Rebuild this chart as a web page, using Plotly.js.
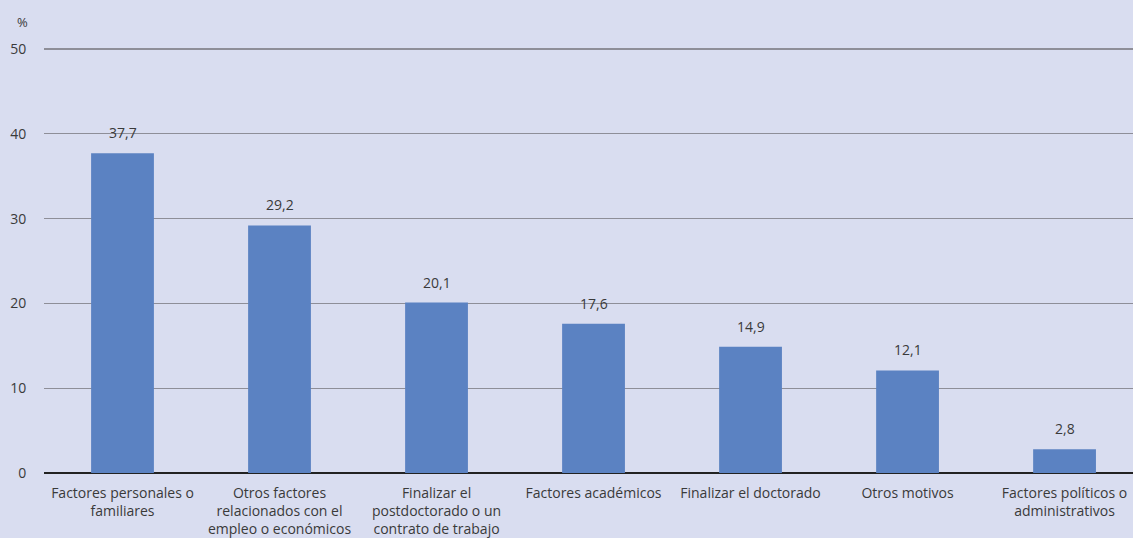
<!DOCTYPE html>
<html><head><meta charset="utf-8">
<script src="https://cdn.plot.ly/plotly-3.0.1.min.js"></script>
<style>html,body{margin:0;padding:0;background:#d9ddf0;}</style>
</head><body><div id="chart" style="width:1133px;height:538px;"></div>
<script>
const categories = ["Factores personales o<br>familiares","Otros factores<br>relacionados con el<br>empleo o económicos","Finalizar el<br>postdoctorado o un<br>contrato de trabajo","Factores académicos","Finalizar el doctorado","Otros motivos","Factores políticos o<br>administrativos"];
const values = [37.7, 29.2, 20.1, 17.6, 14.9, 12.1, 2.8];
const valueLabels = ["37,7","29,2","20,1","17,6","14,9","12,1","2,8"];
const yTicks = [0,10,20,30,40,50];

const xIdx = categories.map((c,i)=>i);
const font = {family:"Open Sans, DejaVu Sans, sans-serif", size:14, color:"#3a3a3a"};

const annotations = values.map((v,i)=>({x:i, y:v, xref:'x', yref:'y', text:valueLabels[i], showarrow:false, yanchor:'bottom', yshift:9, font:font}));
annotations.push({xref:'paper', yref:'paper', x:-0.0202, y:1.062, xanchor:'center', yanchor:'middle', text:'%', showarrow:false, font:{family:font.family, size:13, color:"#3a3a3a"}});

Plotly.newPlot('chart', [{
  type:'bar', x:xIdx, y:values, marker:{color:'#5b82c2'}, hoverinfo:'none'
}], {
  width:1133, height:538,
  paper_bgcolor:'#d9ddf0', plot_bgcolor:'#d9ddf0',
  margin:{l:44, r:0, t:48, b:65},
  bargap:0.6,
  showlegend:false,
  font:font,
  xaxis:{range:[-0.5, 6.436], tickvals:xIdx, ticktext:categories, showgrid:false, zeroline:false, showline:false, ticks:'', tickfont:font, tickangle:0, automargin:false, ticklabelstandoff:10},
  yaxis:{range:[0,50.12], tickvals:yTicks, showgrid:true, gridcolor:'#8e8e98', gridwidth:1.3, zeroline:true, zerolinecolor:'#222', zerolinewidth:1.3, ticks:'outside', ticklen:14, tickcolor:'rgba(0,0,0,0)', tickfont:font, showline:false, automargin:false},
  annotations:annotations
}, {staticPlot:true});
</script></body></html>
